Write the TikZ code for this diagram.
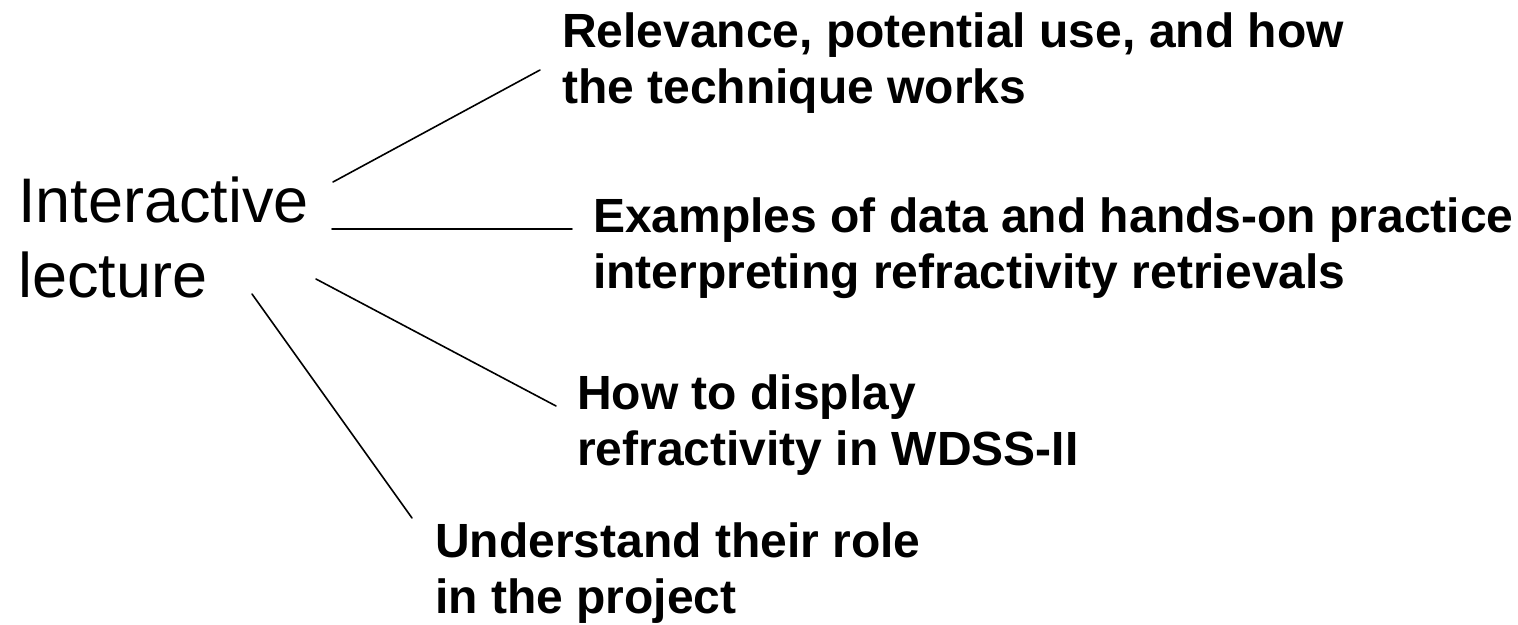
\documentclass[tikz,border=0pt]{standalone}
\usepackage{fontspec}
\setmainfont{Liberation Sans}

\begin{document}
\begin{tikzpicture}[line cap=round,line join=round,x=1pt,y=-1pt,
  lecbox/.style={anchor=base west,align=left,inner sep=0pt,font=\fontsize{63}{75}\selectfont},
  topic/.style={anchor=base west,align=left,inner sep=0pt,font=\fontsize{48}{56}\selectfont\bfseries},
  link/.style={line width=1.6pt}]
\useasboundingbox (0,0) rectangle (1518,624);
% base anchor sits on the last line
\node [lecbox] (lec) at (18,297) {Interactive\\lecture};
\node [topic] (rel) at (562,103) {Relevance, potential use, and how\\the technique works};
\node [topic] (ex) at (593,288) {Examples of data and hands-on practice\\interpreting refractivity retrievals};
\node [topic] (disp) at (577,465) {How to display\\refractivity in WDSS-II};
\node [topic] (role) at (435,613) {Understand their role\\in the project};
\coordinate (relA) at (333,182);
\coordinate (relB) at (540,70);
\coordinate (exA) at (332,229);
\coordinate (exB) at (572,229);
\coordinate (dispA) at (316,279);
\coordinate (dispB) at (556,406);
\coordinate (roleA) at (252,294);
\coordinate (roleB) at (412,518);
\draw [link] (relA) -- (relB);
\draw [link] (exA) -- (exB);
\draw [link] (dispA) -- (dispB);
\draw [link] (roleA) -- (roleB);
\end{tikzpicture}
\end{document}
